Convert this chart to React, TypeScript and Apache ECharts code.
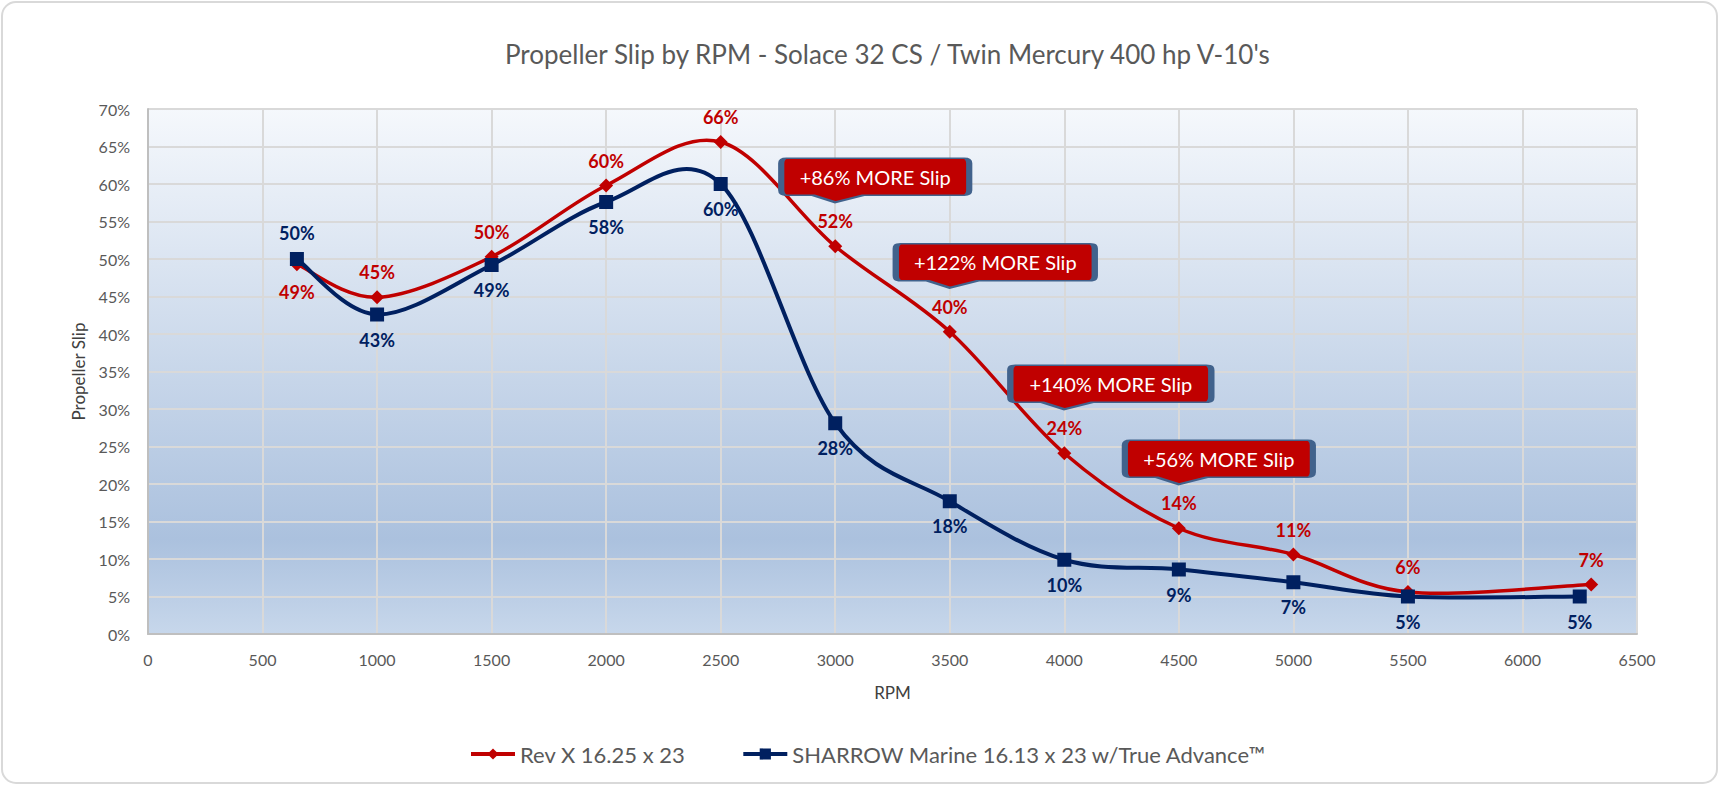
import React, { useEffect, useRef } from "react";
import * as echarts from "echarts";

const rpmRev = [650, 1000, 1500, 2000, 2500, 3000, 3500, 4000, 4500, 5000, 5500, 6300];
const slipRev = [49.3, 44.9, 50.3, 59.8, 65.6, 51.7, 40.3, 24.1, 14.1, 10.6, 5.6, 6.6];
const rpmSharrow = [650, 1000, 1500, 2000, 2500, 3000, 3500, 4000, 4500, 5000, 5500, 6250];
const slipSharrow = [50.0, 42.6, 49.2, 57.6, 60.0, 28.1, 17.7, 9.9, 8.6, 6.9, 5.0, 5.0];

const calloutIndex = [5, 6, 7, 8];
const calloutText = ["+86% MORE Slip", "+122% MORE Slip", "+140% MORE Slip", "+56% MORE Slip"];
const calloutWidth = [188, 199, 201, 188];

const titleText = "Propeller Slip by RPM - Solace 32 CS / Twin Mercury 400 hp V-10's";
const revName = "Rev X 16.25 x 23";
const sharrowName = "SHARROW Marine 16.13 x 23 w/True Advance\u2122";

const FONT = "Lato, 'Noto Sans', sans-serif";
const RED = "#C00000";
const BLUE = "#002060";

function calloutPath(w: number, tip: number) {
  const h = 37, t = 7, r = 5;
  return `path://M${r},0 H${w - r} Q${w},0 ${w},${r} V${h - r} Q${w},${h} ${w - r},${h} H${tip + 28} L${tip},${h + t} L${tip - 22},${h} H${r} Q0,${h} 0,${h - r} V${r} Q0,0 ${r},0 Z`;
}

// Excel-like smoothed line (Catmull-Rom -> cubic Bezier) through the data, via the axis scales
function smoothCurve(xs: number[], ys: number[], color: string, width: number) {
  return (_params: any, api: any) => {
    const pts = xs.map((x, i) => api.coord([x, ys[i]]));
    let d = `M${pts[0][0]},${pts[0][1]}`;
    for (let i = 0; i < pts.length - 1; i++) {
      const p0 = pts[i - 1] || pts[i];
      const p1 = pts[i];
      const p2 = pts[i + 1];
      const p3 = pts[i + 2] || pts[i + 1];
      const c1x = p1[0] + (p2[0] - p0[0]) / 6;
      const c1y = p1[1] + (p2[1] - p0[1]) / 6;
      const c2x = p2[0] - (p3[0] - p1[0]) / 6;
      const c2y = p2[1] - (p3[1] - p1[1]) / 6;
      d += ` C${c1x},${c1y} ${c2x},${c2y} ${p2[0]},${p2[1]}`;
    }
    return {
      type: "path",
      shape: { pathData: d },
      style: { fill: "none", stroke: color, lineWidth: width, lineJoin: "round", lineCap: "round" },
    };
  };
}

export default function App() {
  const ref = useRef<HTMLDivElement>(null);
  useEffect(() => {
    document.body.style.margin = "0";
    const chart = echarts.init(ref.current!, null, { renderer: "svg" });
    const tip = 54;
    const revData = rpmRev.map((x, i) =>
      i === 0
        ? { value: [x, slipRev[i]], label: { position: "bottom", distance: 12 } }
        : { value: [x, slipRev[i]] }
    );
    const shData = rpmSharrow.map((x, i) =>
      i === 0
        ? { value: [x, slipSharrow[i]], label: { position: "top", distance: 10 } }
        : { value: [x, slipSharrow[i]] }
    );
    const markData = calloutIndex.map((idx, k) => {
      const w = calloutWidth[k];
      return {
        name: calloutText[k],
        coord: [rpmRev[idx], slipRev[idx]],
        symbol: calloutPath(w, tip),
        symbolSize: [w, 44],
        symbolOffset: [w / 2 - tip, -44 - 22],
      };
    });
    const pctFmt = (p: any) => Math.round(p.value[1]) + "%";
    chart.setOption({
      animation: false,
      backgroundColor: "#FFFFFF",
      textStyle: { fontFamily: FONT },
      title: {
        text: titleText,
        left: 500,
        top: 36,
        textStyle: { fontFamily: FONT, fontSize: 26, fontWeight: "normal", color: "#595959" },
      },
      graphic: [
        {
          type: "rect",
          shape: { x: 2, y: 2, width: 1715, height: 781, r: 14 },
          style: { fill: "none", stroke: "#D9D9D9", lineWidth: 2 },
          z: -10,
        },
      ],
      legend: {
        left: 464,
        top: 738,
        itemWidth: 44,
        itemHeight: 14,
        itemGap: 56,
        textStyle: { fontFamily: FONT, fontSize: 22, color: "#595959" },
        data: [
          { name: revName, lineStyle: { opacity: 1, width: 4, color: RED } },
          { name: sharrowName, lineStyle: { opacity: 1, width: 4, color: BLUE } },
        ],
      },
      grid: {
        left: 148,
        top: 109,
        right: 83,
        bottom: 151,
        show: true,
        borderColor: "#D9D9D9",
        borderWidth: 1,
        backgroundColor: new echarts.graphic.LinearGradient(0, 0, 0, 1, [
          { offset: 0, color: "#F5F8FC" },
          { offset: 0.82, color: "#ABC1DE" },
          { offset: 1, color: "#C7D7EB" },
        ]),
      },
      xAxis: {
        type: "value",
        min: 0,
        max: 6500,
        interval: 500,
        name: "RPM",
        nameLocation: "middle",
        nameGap: 50,
        nameTextStyle: { fontFamily: FONT, fontSize: 17, color: "#404040" },
        axisLine: { show: true, lineStyle: { color: "#BFBFBF", width: 2 } },
        axisTick: { show: false },
        axisLabel: {
          margin: 17,
          fontSize: 16,
          color: "#595959",
          fontFamily: FONT,
          formatter: (v: number) => String(v),
        },
        splitLine: { show: true, lineStyle: { color: "#D9D9D9", width: 2 } },
      },
      yAxis: {
        type: "value",
        min: 0,
        max: 70,
        interval: 5,
        name: "Propeller Slip",
        nameLocation: "middle",
        nameGap: 61,
        nameRotate: 90,
        nameTextStyle: { fontFamily: FONT, fontSize: 17, color: "#404040" },
        axisLine: { show: true, lineStyle: { color: "#BFBFBF", width: 2 } },
        axisTick: { show: false },
        axisLabel: { margin: 18, fontSize: 16, color: "#595959", fontFamily: FONT, formatter: "{value}%" },
        splitLine: { show: true, lineStyle: { color: "#D9D9D9", width: 2 } },
      },
      series: [
        {
          name: "revCurve",
          type: "custom",
          silent: true,
          data: [[rpmRev[0], slipRev[0]]],
          encode: { x: 0, y: 1 },
          renderItem: smoothCurve(rpmRev, slipRev, RED, 3.5),
        },
        {
          name: revName,
          type: "line",
          data: revData,
          symbol: "diamond",
          symbolSize: 14,
          color: RED,
          lineStyle: { color: RED, width: 4, opacity: 0 },
          itemStyle: { color: RED },
          label: {
            show: true,
            position: "top",
            distance: 9,
            formatter: pctFmt,
            color: RED,
            fontFamily: FONT,
            fontWeight: "bold",
            fontSize: 18,
          },
          markPoint: {
            z: 10,
            itemStyle: { color: RED, borderColor: "#41628C", borderWidth: 3 },
            label: {
              show: true,
              position: "inside",
              offset: [0, -3.5],
              formatter: "{b}",
              color: "#FFFFFF",
              fontFamily: FONT,
              fontSize: 20,
            },
            data: markData,
          },
        },
        {
          name: "sharrowCurve",
          type: "custom",
          silent: true,
          data: [[rpmSharrow[0], slipSharrow[0]]],
          encode: { x: 0, y: 1 },
          renderItem: smoothCurve(rpmSharrow, slipSharrow, BLUE, 4),
        },
        {
          name: sharrowName,
          type: "line",
          data: shData,
          symbol: "rect",
          symbolSize: 14,
          color: BLUE,
          lineStyle: { color: BLUE, width: 4, opacity: 0 },
          itemStyle: { color: BLUE },
          label: {
            show: true,
            position: "bottom",
            distance: 9,
            formatter: pctFmt,
            color: BLUE,
            fontFamily: FONT,
            fontWeight: "bold",
            fontSize: 18,
          },
        },
      ],
    });
    return () => chart.dispose();
  }, []);
  return <div ref={ref} style={{ width: 1720, height: 785 }} />;
}
